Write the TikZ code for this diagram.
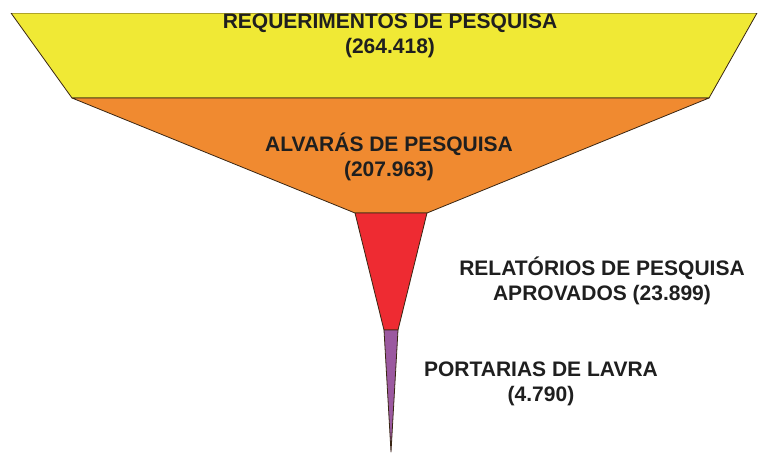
\documentclass[tikz,border=0pt]{standalone}
\usepackage{fontspec}
\setmainfont{Liberation Sans}
\begin{document}
\begin{tikzpicture}[x=1pt,y=-1pt,
  seg/.style={draw=black!70!brown,line width=0.8pt,line join=round},
  lbl/.style={font=\bfseries\fontsize{21}{24.5}\selectfont,text=black!88,align=center,inner sep=0pt}]
\definecolor{cyel}{HTML}{F0E935}
\definecolor{corg}{HTML}{F08A30}
\definecolor{cred}{HTML}{EE2B32}
\definecolor{cpur}{HTML}{9B59A0}
\useasboundingbox (0,0) rectangle (758,453);
\fill[white] (0,0) rectangle (758,453);
\filldraw[seg,fill=cyel] (11,13) -- (757,13) -- (709,98) -- (72,98) -- cycle;
\filldraw[seg,fill=corg] (72,98) -- (709,98) -- (427,213) -- (355,213) -- cycle;
\filldraw[seg,fill=cred] (355,213) -- (427,213) -- (398,330) -- (384,330) -- cycle;
\filldraw[seg,fill=cpur] (384,330) -- (398,330) -- (391,452) -- cycle;
\fill[white] (0,0) rectangle (758,12.5);
\node[lbl] (req) at (390,36) {REQUERIMENTOS DE PESQUISA\\(264.418)};
\node[lbl] (alv) at (389,157) {ALVARÁS DE PESQUISA\\(207.963)};
\node[lbl] (rel) at (602,281) {RELATÓRIOS DE PESQUISA\\APROVADOS (23.899)};
\node[lbl] (por) at (541,384) {PORTARIAS DE LAVRA\\(4.790)};
\end{tikzpicture}
\end{document}
